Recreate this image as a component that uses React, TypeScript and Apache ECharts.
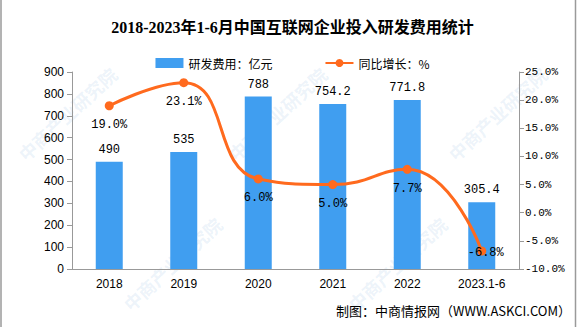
import React, { useEffect, useRef } from "react";
import * as echarts from "echarts";

const categories = ["2018", "2019", "2020", "2021", "2022", "2023.1-6"];
const rdSpend = [490, 535, 788, 754.2, 771.8, 305.4];
const yoyGrowth = [19.0, 23.1, 6.0, 5.0, 7.7, -6.8];
const titleText = "2018-2023年1-6月中国互联网企业投入研发费用统计";
const barName = "研发费用：亿元";
const lineName = "同比增长：%";
const footerText = "制图：中商情报网（WWW.ASKCI.COM）";
const watermarkText = "中商产业研究院";
const watermarkSpots = [
  [15, 150], [120, 300], [225, 150], [345, 300], [445, 150]
];

export default function App() {
  const ref = useRef<HTMLDivElement>(null);
  useEffect(() => {
    if (!ref.current) return;
    const chart = echarts.init(ref.current, null, { renderer: "svg" });
    const mono = "'Liberation Mono', 'Noto Sans CJK SC', monospace";
    const sans = "'Liberation Sans', 'Noto Sans CJK SC', sans-serif";
    const cjk = "'Noto Sans CJK SC', sans-serif";
    chart.setOption({
      animation: false,
      backgroundColor: "#ffffff",
      title: {
        text: titleText,
        left: "center",
        top: 14,
        textStyle: {
          fontFamily: "'Liberation Serif', 'Noto Sans CJK SC', serif",
          fontWeight: "bold",
          fontSize: 16,
          color: "#000",
        },
      },
      legend: {
        top: 52,
        left: "center",
        itemWidth: 28,
        itemHeight: 10,
        itemGap: 52,
        textStyle: { fontFamily: cjk, fontSize: 12, color: "#000" },
        data: [
          { name: barName, icon: "rect" },
          { name: lineName },
        ],
      },
      grid: { left: 72, right: 66, top: 72, bottom: 58 },
      xAxis: {
        type: "category",
        data: categories,
        axisLine: { lineStyle: { color: "#999" } },
        axisTick: { lineStyle: { color: "#999" } },
        axisLabel: { color: "#000", fontFamily: sans, fontSize: 12, margin: 9 },
      },
      yAxis: [
        {
          type: "value",
          min: 0,
          max: 900,
          interval: 100,
          splitLine: { show: false },
          axisLine: { show: true, lineStyle: { color: "#999" } },
          axisTick: { show: true, lineStyle: { color: "#999" } },
          axisLabel: { color: "#000", fontFamily: sans, fontSize: 12, margin: 8 },
        },
        {
          type: "value",
          min: -10,
          max: 25,
          interval: 5,
          splitLine: { show: false },
          axisLine: { show: true, lineStyle: { color: "#999" } },
          axisTick: { show: true, lineStyle: { color: "#999" } },
          axisLabel: {
            color: "#000",
            fontFamily: mono,
            fontSize: 11,
            margin: 6,
            formatter: (v: number) => v.toFixed(1) + "%",
          },
        },
      ],
      graphic: [
        ...watermarkSpots.map(([x, y]) => ({
          type: "text",
          x,
          y,
          rotation: Math.PI / 4.2,
          z: -10,
          silent: true,
          style: {
            text: watermarkText,
            fontFamily: cjk,
            fontSize: 18,
            fontWeight: "bold",
            fill: "rgba(120,170,220,0.14)",
          },
        })),
        {
          type: "line",
          shape: { x1: 1, y1: 0, x2: 1, y2: 327 },
          style: { stroke: "#9a9a9a", lineWidth: 1.5 },
        },
        {
          type: "line",
          shape: { x1: 575.5, y1: 0, x2: 575.5, y2: 327 },
          style: { stroke: "#9a9a9a", lineWidth: 1.5 },
        },
        {
          type: "text",
          right: 14,
          top: 304,
          style: {
            text: footerText,
            fontFamily: cjk,
            fontSize: 13,
            fill: "#000",
          },
        },
      ],
      series: [
        {
          name: barName,
          type: "bar",
          data: rdSpend,
          barWidth: 27,
          itemStyle: { color: "#409EF0" },
          label: {
            show: true,
            position: "top",
            distance: 6,
            color: "#000",
            fontFamily: mono,
            fontSize: 12,
          },
        },
        {
          name: lineName,
          type: "line",
          yAxisIndex: 1,
          data: yoyGrowth.map((v, i) =>
            i === yoyGrowth.length - 1
              ? { value: v, label: { position: "inside", offset: [4, 2] } }
              : v
          ),
          smooth: 0.5,
          symbol: "circle",
          symbolSize: 9,
          lineStyle: { color: "#FF6A1E", width: 3 },
          itemStyle: { color: "#FF6A1E" },
          label: {
            show: true,
            position: "bottom",
            distance: 9,
            color: "#000",
            fontFamily: mono,
            fontSize: 12,
            formatter: (p: any) => Number(p.value).toFixed(1) + "%",
          },
        },
      ],
    });
    return () => chart.dispose();
  }, []);
  return (
    <div
      ref={ref}
      style={{ position: "absolute", left: 0, top: 0, width: 585, height: 327 }}
    />
  );
}
